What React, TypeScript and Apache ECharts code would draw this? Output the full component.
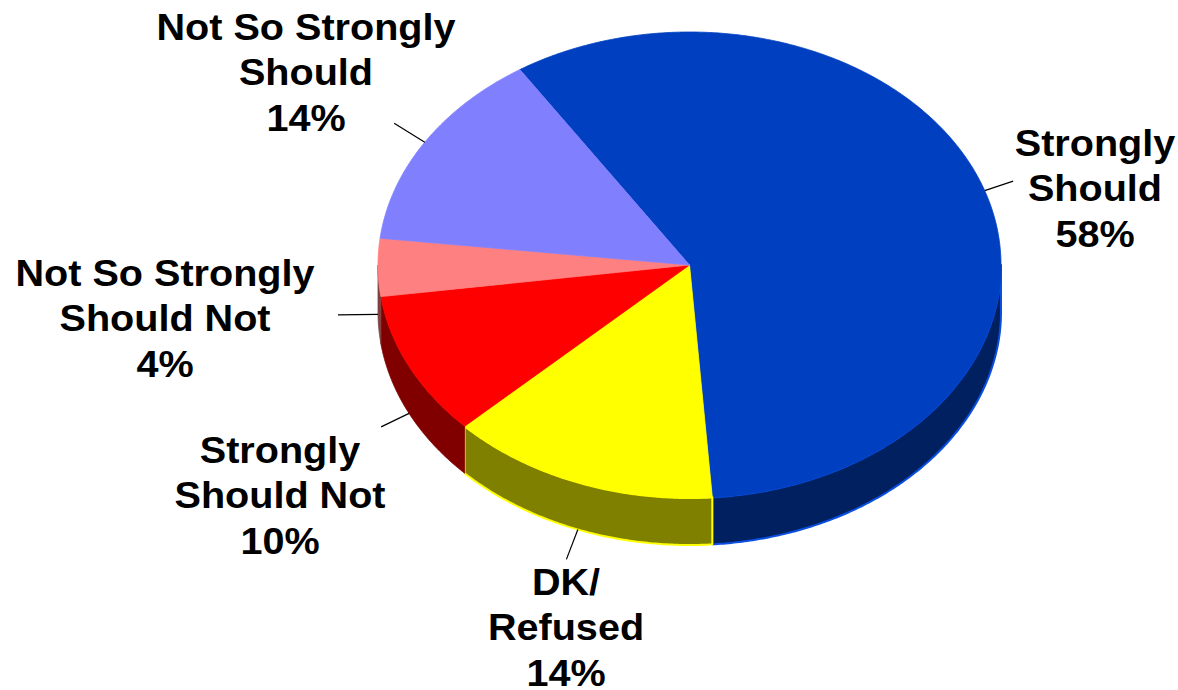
import React, { useEffect, useRef } from "react";
import * as echarts from "echarts";

// Data
const categories = [
  "Strongly\nShould",
  "DK/\nRefused",
  "Strongly\nShould Not",
  "Not So Strongly\nShould Not",
  "Not So Strongly\nShould",
];
const values = [58, 14, 10, 4, 14];

// Styles / layout
const topColors = ["#0040C0", "#FFFF00", "#FF0000", "#FF8080", "#8080FF"];
const sideColors = ["#002060", "#808000", "#800000", "#804040", "#404080"];
const sideStrokes = ["#0A4FE0", "#FFFF00", "#800000", "#804040", "#404080"];
const labelCenters = [
  [1095, 188],
  [566, 627],
  [280, 495],
  [165, 318],
  [306, 72],
];
const leaderLen = [30, 32, 31, 40, 36];

const CX = 689.5;
const CY = 265;
const RX = 311.5;
const RY = 233;
const DEPTH = 47;
const START = 123;

function pt(deg: number, dy = 0): number[] {
  const r = (deg * Math.PI) / 180;
  return [CX + RX * Math.cos(r), CY - RY * Math.sin(r) + dy];
}

function arc(from: number, to: number, dy: number): number[][] {
  const n = Math.max(2, Math.ceil(Math.abs(to - from) / 0.5));
  const out: number[][] = [];
  for (let k = 0; k <= n; k++) {
    out.push(pt(from + ((to - from) * k) / n, dy));
  }
  return out;
}

export default function App() {
  const ref = useRef<HTMLDivElement>(null);
  useEffect(() => {
    if (!ref.current) return;
    const chart = echarts.init(ref.current, null, { renderer: "svg" });
    const total = values.reduce((a, b) => a + b, 0);
    chart.setOption({
      animation: false,
      backgroundColor: "#ffffff",
      series: [
        {
          type: "custom",
          coordinateSystem: "none",
          data: values.map((v, i) => ({ name: categories[i], value: v })),
          renderItem: (params: any, api: any) => {
            const i = params.dataIndex;
            const v = api.value(0);
            let cum = 0;
            for (let j = 0; j < i; j++) cum += values[j];
            const a0 = START - (cum / total) * 360;
            const a1 = START - ((cum + v) / total) * 360;
            const children: any[] = [];
            // side walls (front-facing part)
            for (let k = -2; k <= 1; k++) {
              const lo = Math.max(a1, 180 + 360 * k);
              const hi = Math.min(a0, 360 + 360 * k);
              if (hi > lo) {
                const pts = arc(hi, lo, 0).concat(arc(lo, hi, DEPTH));
                children.push({
                  type: "polygon",
                  shape: { points: pts },
                  style: {
                    fill: sideColors[i],
                    stroke: sideStrokes[i],
                    lineWidth: i <= 1 ? 2 : 0.8,
                    lineJoin: "round",
                  },
                });
              }
            }
            // top face
            const topPts = [[CX, CY]].concat(arc(a0, a1, 0));
            children.push({
              type: "polygon",
              shape: { points: topPts },
              style: {
                fill: topColors[i],
                stroke: topColors[i],
                lineWidth: 0.8,
                lineJoin: "round",
              },
            });
            // leader line
            const mid = (a0 + a1) / 2;
            const r = (mid * Math.PI) / 180;
            const below = Math.sin(r) < 0;
            const p = pt(mid, below ? DEPTH : 0);
            const dx = Math.cos(r);
            const dy = -Math.sin(r);
            const len = Math.hypot(dx, dy);
            const L = leaderLen[i];
            children.push({
              type: "line",
              shape: {
                x1: p[0],
                y1: p[1],
                x2: p[0] + (dx / len) * L,
                y2: p[1] + (dy / len) * L,
              },
              style: { stroke: "#000000", lineWidth: 1.2 },
            });
            // label
            children.push({
              type: "text",
              x: labelCenters[i][0],
              y: labelCenters[i][1],
              scaleX: 1.07,
              style: {
                text: categories[i] + "\n" + v + "%",
                x: 0,
                y: 0,
                align: "center",
                verticalAlign: "middle",
                fontFamily: '"Liberation Sans", Arial, sans-serif',
                fontWeight: "bold",
                fontSize: 37,
                lineHeight: 45.5,
                fill: "#000000",
              },
            });
            return { type: "group", children };
          },
        },
      ],
    });
    return () => chart.dispose();
  }, []);
  return (
    <div
      ref={ref}
      style={{ position: "fixed", left: 0, top: 0, width: 1178, height: 690 }}
    />
  );
}
